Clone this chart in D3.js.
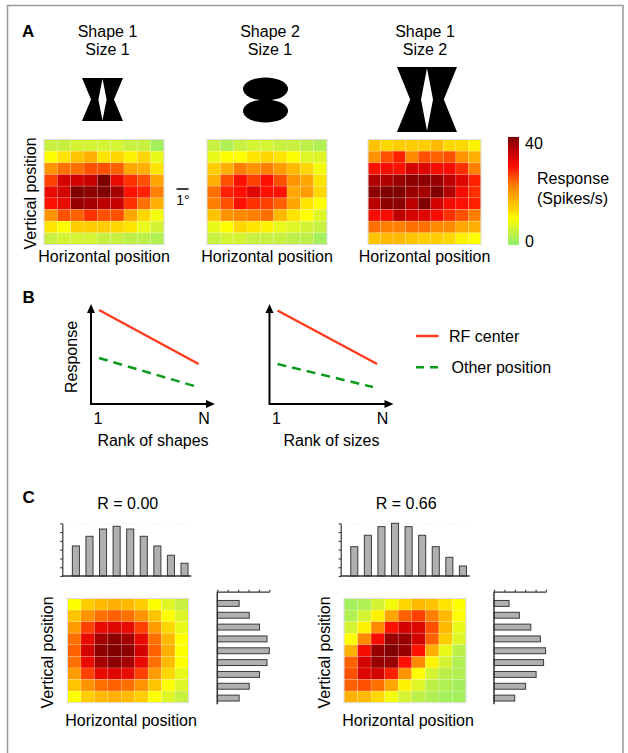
<!DOCTYPE html>
<html>
<head>
<meta charset="utf-8">
<script src="https://cdn.jsdelivr.net/npm/d3@7"></script>
<style>
  body { margin: 0; background: #fff; }
  svg { display: block; font-family: "Liberation Sans", Arial, sans-serif; }
</style>
</head>
<body>
<svg id="fig" width="628" height="753"></svg>
<script>
// ---------------- data ----------------
// Panel A: response maps, 9 x 9 positions, spikes/s, top row first
const shape1Size1 = [
  [5, 5, 6, 6, 6, 6, 5, 5, 2],
  [10, 12, 15, 17, 12, 13, 11, 13, 8],
  [20, 23, 23, 25, 25, 24, 18, 17, 12],
  [26, 33, 33, 34, 40, 31, 27, 25, 18],
  [31, 33, 40, 39, 40, 37, 29, 28, 22],
  [29, 31, 38, 37, 35, 34, 27, 23, 17],
  [20, 25, 24, 27, 25, 25, 18, 13, 9],
  [12, 10, 14, 14, 14, 13, 12, 8, 6],
  [5, 6, 6, 6, 5, 5, 4, 4, 3]
];
const shape2Size1 = [
  [5, 3, 5, 6, 6, 5, 5, 4, 3],
  [8, 10, 10, 12, 13, 12, 10, 7, 7],
  [14, 17, 22, 20, 22, 19, 16, 13, 9],
  [17, 25, 29, 26, 29, 25, 20, 18, 12],
  [23, 28, 29, 32, 29, 29, 18, 19, 13],
  [22, 25, 29, 27, 26, 24, 18, 12, 10],
  [15, 20, 21, 22, 23, 16, 12, 10, 7],
  [8, 10, 13, 12, 11, 8, 7, 6, 5],
  [5, 6, 6, 5, 5, 5, 4, 4, 2]
];
const shape1Size2 = [
  [15, 13, 14, 14, 14, 16, 13, 13, 11],
  [20, 25, 28, 21, 25, 24, 25, 20, 17],
  [29, 30, 29, 33, 32, 30, 30, 27, 22],
  [36, 36, 38, 39, 39, 38, 35, 32, 28],
  [39, 40, 40, 38, 37, 40, 36, 30, 27],
  [35, 39, 39, 35, 40, 33, 30, 29, 28],
  [30, 30, 35, 33, 32, 30, 27, 25, 22],
  [23, 22, 22, 23, 23, 21, 21, 18, 17],
  [15, 16, 16, 15, 14, 14, 13, 11, 10]
];
const titlesA = [["Shape 1", "Size 1"], ["Shape 2", "Size 1"], ["Shape 1", "Size 2"]];
const colorTicks = [0, 40];

// Panel B: schematic tuning lines, x = rank (0 -> "1", 1 -> "N"), y = response (0..1)
const rankTicks = [[0, "1"], [1, "N"]];
const shapesRF = [[0, 0.94], [0.94, 0.40]];
const shapesOther = [[0, 0.46], [0.90, 0.18]];
const sizesRF = [[0, 0.935], [0.94, 0.40]];
const sizesOther = [[0, 0.40], [0.90, 0.17]];
const legendB = ["RF center", "Other position"];

// Panel C: separable (R = 0.00) and inseparable (R = 0.66) maps
const mapR0 = [
  [10, 14, 16, 17, 16, 14, 10, 7, 5],
  [15, 20, 23, 24, 23, 20, 15, 10, 7],
  [19, 26, 31, 32, 31, 26, 19, 13, 8],
  [23, 31, 37, 39, 37, 31, 23, 16, 10],
  [24, 33, 39, 40, 39, 33, 24, 17, 10],
  [23, 31, 37, 39, 37, 31, 23, 16, 10],
  [19, 26, 31, 32, 31, 26, 19, 13, 8],
  [15, 20, 23, 24, 23, 20, 15, 10, 7],
  [10, 14, 16, 17, 16, 14, 10, 7, 5]
];
const mapR66 = [
  [2, 3, 6, 9, 13, 16, 15, 12, 10],
  [3, 6, 11, 18, 24, 26, 22, 16, 10],
  [6, 11, 21, 29, 33, 32, 25, 16, 8],
  [10, 21, 30, 38, 38, 33, 24, 14, 7],
  [17, 30, 38, 40, 38, 29, 17, 8, 4],
  [24, 33, 38, 38, 29, 21, 11, 6, 3],
  [25, 32, 33, 28, 20, 10, 6, 4, 3],
  [24, 25, 23, 18, 11, 7, 4, 3, 2],
  [17, 16, 13, 9, 6, 4, 3, 2, 2]
];
// marginal profiles (arbitrary units)
const colSumR0 = [3.42, 4.52, 5.35, 5.66, 5.35, 4.52, 3.42, 2.36, 1.45];
const rowSumR0 = [2.10, 3.07, 4.06, 4.78, 5.00, 4.78, 4.06, 3.07, 2.10];
const colSumR66 = [3.34, 4.64, 5.62, 6.00, 5.62, 4.64, 3.34, 2.13, 1.14];
const rowSumR66 = [1.45, 2.44, 3.54, 4.46, 4.96, 4.77, 4.05, 3.04, 1.99];
const titlesC = ["R = 0.00", "R = 0.66"];

// ---------------- drawing ----------------
const svg = d3.select("#fig");

// figure frame
svg.append("rect")
  .attr("x", 7.5).attr("y", 5.5)
  .attr("width", 615.5).attr("height", 800)
  .attr("fill", "none").attr("stroke", "#9a9a9a").attr("stroke-width", 1.5);

const color = d3.scaleLinear()
  .domain([0, 5, 10, 13, 17, 22, 25, 29, 34, 40])
  .range(["#8cf06e", "#c8f040", "#ffff00", "#ffd700", "#ffb000", "#ff8000", "#ff5000", "#ff1000", "#c80000", "#800000"])
  .clamp(true);

function panelLetter(t, x, y) {
  svg.append("text").attr("x", x).attr("y", y)
    .attr("font-size", 17).attr("font-weight", "bold").text(t);
}

function label(t, x, y, opts = {}) {
  const el = svg.append("text")
    .attr("font-size", opts.size || 16)
    .attr("text-anchor", opts.anchor || "middle")
    .text(t);
  if (opts.rotate) el.attr("transform", `translate(${x},${y}) rotate(-90)`);
  else el.attr("x", x).attr("y", y);
  return el;
}

function heatmap(grid, x0, x1, y0, y1) {
  const x = d3.scaleBand().domain(d3.range(grid[0].length)).range([x0, x1]);
  const y = d3.scaleBand().domain(d3.range(grid.length)).range([y0, y1]);
  const g = svg.append("g");
  g.selectAll("rect")
    .data(grid.flatMap((row, r) => row.map((v, c) => ({ r, c, v }))))
    .join("rect")
    .attr("x", d => x(d.c))
    .attr("y", d => y(d.r))
    .attr("width", x.bandwidth())
    .attr("height", y.bandwidth())
    .attr("fill", d => color(d.v))
    .attr("stroke", "rgba(255,255,255,0.22)")
    .attr("stroke-width", 0.7);
  g.append("rect")
    .attr("x", x0).attr("y", y0).attr("width", x1 - x0).attr("height", y1 - y0)
    .attr("fill", "none").attr("stroke", "#dcdcdc").attr("stroke-width", 1);
}

// ---- Panel A ----
panelLetter("A", 22, 37);

const mapsA = [
  { grid: shape1Size1, x0: 44, x1: 164, cx: 107.5 },
  { grid: shape2Size1, x0: 207, x1: 327, cx: 270 },
  { grid: shape1Size2, x0: 368, x1: 481, cx: 425 }
];
mapsA.forEach((m, i) => {
  label(titlesA[i][0], m.cx, 37);
  label(titlesA[i][1], m.cx, 55);
  heatmap(m.grid, m.x0, m.x1, 139.5, 244.5);
  label("Horizontal position", (m.x0 + m.x1) / 2, 262);
});
label("Vertical position", 36, 193.5, { rotate: true });

// stimulus silhouettes
const hourOuter = [[0, 0], [1, 0], [0.78, 0.5], [1, 1], [0, 1], [0.22, 0.5]];
const hourInner = [[0.5, 0.02], [0.6, 0.5], [0.5, 0.98], [0.4, 0.5]];
function hourglass(x0, x1, y0, y1) {
  const sx = d3.scaleLinear().range([x0, x1]);
  const sy = d3.scaleLinear().range([y0, y1]);
  const line = d3.line().x(d => sx(d[0])).y(d => sy(d[1]));
  svg.append("path")
    .attr("d", line(hourOuter) + "Z" + line(hourInner) + "Z")
    .attr("fill", "#000").attr("fill-rule", "evenodd");
}
hourglass(82, 123, 78, 121);
hourglass(397, 457, 67, 132);
[89, 111].forEach(cy => {
  svg.append("ellipse")
    .attr("cx", 265.5).attr("cy", cy).attr("rx", 22.5).attr("ry", 11.5)
    .attr("fill", "#000");
});

// 1 degree scale bar
svg.append("line").attr("x1", 176.5).attr("x2", 188.5).attr("y1", 189).attr("y2", 189)
  .attr("stroke", "#000").attr("stroke-width", 1.5);
label("1°", 183, 205, { size: 14 });

// colour bar
const defs = svg.append("defs");
const grad = defs.append("linearGradient").attr("id", "cbar")
  .attr("x1", 0).attr("y1", 1).attr("x2", 0).attr("y2", 0);
grad.selectAll("stop")
  .data(d3.range(0, 1.0001, 0.025))
  .join("stop")
  .attr("offset", d => d)
  .attr("stop-color", d => color(d * 40));
const cbY = d3.scaleLinear().domain([0, 40]).range([245, 137]);
svg.append("rect")
  .attr("x", 508).attr("y", cbY(40)).attr("width", 11).attr("height", cbY(0) - cbY(40))
  .attr("fill", "url(#cbar)");
colorTicks.forEach(v => {
  label(String(v), 525, v === 40 ? cbY(v) + 11.5 : cbY(v) + 2, { anchor: "start" });
});
label("Response", 537, 184, { anchor: "start" });
label("(Spikes/s)", 537, 204, { anchor: "start" });

// ---- Panel B ----
panelLetter("B", 22.5, 303);

function arrowHead(x, y, dir) {
  const L = 9, W = 4;
  const pts = dir === "up"
    ? [[x, y], [x - W, y + L], [x + W, y + L]]
    : [[x, y], [x - L, y - W], [x - L, y + W]];
  svg.append("path").attr("d", d3.line()(pts) + "Z").attr("fill", "#000");
}

function schematic(ax, rf, other, xTitle) {
  const x = d3.scaleLinear().domain([0, 1]).range([ax + 8, ax + 114]);
  const y = d3.scaleLinear().domain([0, 1]).range([404, 304]);
  const line = d3.line().x(d => x(d[0])).y(d => y(d[1]));
  // axes with arrows
  svg.append("path")
    .attr("d", `M${ax},${y(1) + 6}V${y(0)}H${ax + 118}`)
    .attr("fill", "none").attr("stroke", "#000").attr("stroke-width", 2);
  arrowHead(ax, y(1), "up");
  arrowHead(ax + 124, y(0), "right");
  svg.append("path").datum(rf).attr("d", line)
    .attr("fill", "none").attr("stroke", "#ff3c1e").attr("stroke-width", 2.5);
  svg.append("path").datum(other).attr("d", line)
    .attr("fill", "none").attr("stroke", "#0a9a1a").attr("stroke-width", 2.5)
    .attr("stroke-dasharray", "9,6");
  rankTicks.forEach(([v, t]) => label(t, x(v) - 1, 424));
  label(xTitle, x(0.5) + 1, 446);
}
schematic(91, shapesRF, shapesOther, "Rank of shapes");
schematic(269.5, sizesRF, sizesOther, "Rank of sizes");
label("Response", 76.5, 357, { rotate: true });

// legend
[336, 367.3].forEach((ly, i) => {
  svg.append("line").attr("x1", 416).attr("x2", 438.5).attr("y1", ly).attr("y2", ly)
    .attr("stroke", i === 0 ? "#ff3c1e" : "#0a9a1a").attr("stroke-width", 2.5)
    .attr("stroke-dasharray", i === 0 ? null : "8,6");
  label(legendB[i], i === 0 ? 449 : 451.5, ly + 6, { anchor: "start" });
});

// ---- Panel C ----
panelLetter("C", 22.5, 503);

function topHist(values, ax) {
  const x = d3.scaleBand().domain(d3.range(values.length)).range([ax + 6.8, ax + 129]).paddingInner(0.48).paddingOuter(0.24);
  const y = d3.scaleLinear().domain([0, 6]).range([576, 523.3]);
  svg.append("line").attr("x1", ax).attr("x2", ax + 129).attr("y1", y(6)).attr("y2", y(6))
    .attr("stroke", "#e4e4e4").attr("stroke-width", 0.8).attr("stroke-dasharray", "1,2");
  svg.append("g").selectAll("rect").data(values).join("rect")
    .attr("x", (d, i) => x(i)).attr("y", d => y(d))
    .attr("width", x.bandwidth()).attr("height", d => y(0) - y(d))
    .attr("fill", "#b0b0b0").attr("stroke", "#3a3a3a").attr("stroke-width", 1);
  const axis = svg.append("g").attr("transform", `translate(${ax},0)`)
    .call(d3.axisLeft(y).ticks(6).tickSize(2).tickSizeOuter(0).tickFormat(""));
  axis.selectAll("path,line").attr("stroke", "#333").attr("stroke-width", 1.2);
  svg.append("line").attr("x1", ax).attr("x2", ax + 129).attr("y1", y(0)).attr("y2", y(0))
    .attr("stroke", "#333").attr("stroke-width", 1.5);
}

function sideHist(values, ax) {
  const y = d3.scaleBand().domain(d3.range(values.length)).range([597.5, 704]).paddingInner(0.5).paddingOuter(0.25);
  const x = d3.scaleLinear().domain([0, 5]).range([ax, ax + 52]);
  svg.append("g").selectAll("rect").data(values).join("rect")
    .attr("x", x(0)).attr("y", (d, i) => y(i))
    .attr("width", d => x(d) - x(0)).attr("height", y.bandwidth())
    .attr("fill", "#b0b0b0").attr("stroke", "#3a3a3a").attr("stroke-width", 1);
  const axis = svg.append("g").attr("transform", "translate(0,591.7)")
    .call(d3.axisTop(x).ticks(5).tickSize(2).tickSizeOuter(0).tickFormat(""));
  axis.selectAll("path,line").attr("stroke", "#333").attr("stroke-width", 1.2);
  svg.append("line").attr("x1", ax).attr("x2", ax).attr("y1", 591.7).attr("y2", 704.3)
    .attr("stroke", "#333").attr("stroke-width", 1.5);
}

const mapsC = [
  { grid: mapR0, cols: colSumR0, rows: rowSumR0, hx: 62.3, sx: 217.3, x0: 67.5, x1: 188.5, vx: 52.5 },
  { grid: mapR66, cols: colSumR66, rows: rowSumR66, hx: 340.7, sx: 494, x0: 344, x1: 466, vx: 329.5 }
];
mapsC.forEach((m, i) => {
  label(titlesC[i], (m.hx + m.hx + 129) / 2 + 1, 509);
  topHist(m.cols, m.hx);
  heatmap(m.grid, m.x0, m.x1, 598.5, 702.7);
  sideHist(m.rows, m.sx);
  label("Vertical position", m.vx, 652.5, { rotate: true });
  label("Horizontal position", (m.x0 + m.x1) / 2 + 3, 726);
});
</script>
</body>
</html>
